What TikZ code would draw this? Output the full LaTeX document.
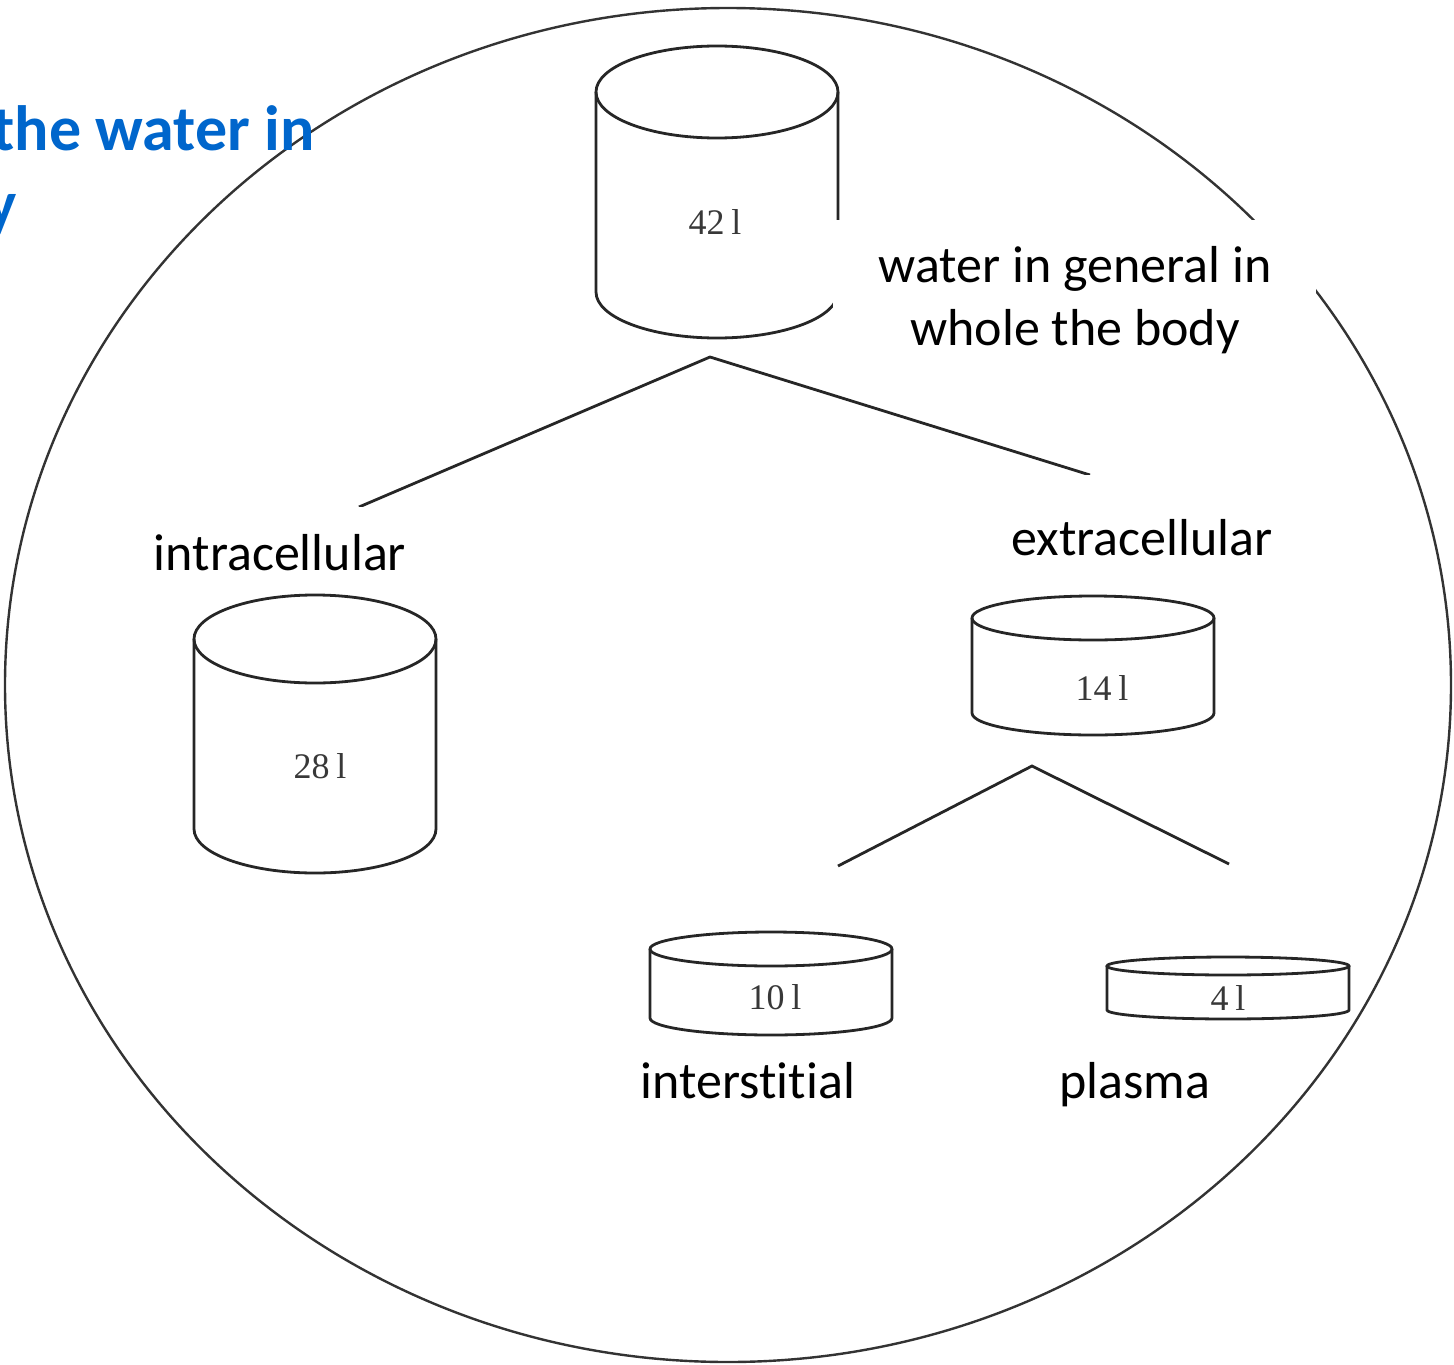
\documentclass[tikz,border=0pt]{standalone}
\usepackage{fontspec}
\setmainfont{Carlito}[Ligatures=NoCommon]
\newfontfamily\volfont{Liberation Serif}
\usepackage{tikz}

\definecolor{titleblue}{RGB}{0,102,204}
\tikzset{
    tank/.style={line width=2.8pt, draw=black!85},
    stem/.style={line width=2.8pt, draw=black!85},
    part/.style={font=\fontsize{52}{63}\selectfont, inner sep=0pt},
    vol/.style={font=\volfont\fontsize{36}{36}\selectfont, text=black!78},
    title/.style={font=\bfseries\fontsize{64}{78}\selectfont, text=titleblue, inner sep=0pt},
}

\begin{document}
\begin{tikzpicture}[x=1pt,y=-1pt]
    \useasboundingbox (0,0) rectangle (1454,1365);
    \coordinate (T1) at (710,357);
    \coordinate (T2) at (359,507);
    \coordinate (T3) at (1090,475);
    \coordinate (E1) at (1032,766);
    \coordinate (E2) at (838,866);
    \coordinate (E3) at (1229,864);

    \draw[line width=2.4pt, draw=black!80] (728,685) ellipse [x radius=723pt, y radius=677pt]; % body

    % tanks: centre x / top y / bottom y / half height of lid / label
    \foreach \cx/\yt/\yb/\ry/\lx/\ly/\val in {717/92/292/46/715/222/42, 315/639/829/44/320/766/28,
        1093/618/713/22/1102/688/14, 771/949/1018/17/775/997/10, 1228/966/1010/9/1228/998/4}{
        \draw[tank] (\cx-121,\yt) -- (\cx-121,\yb) arc[start angle=180, end angle=360, x radius=121pt, y radius=\ry pt] -- (\cx+121,\yt);
        \draw[tank] (\cx,\yt) ellipse [x radius=121pt, y radius=\ry pt];
        \node[vol] (v\val) at (\lx,\ly) {\val\hspace{7pt}l};
    }

    \draw[stem] (T2) -- (T1) -- (T3); % whole -> intra, extra
    \draw[stem] (E2) -- (E1) -- (E3); % extra -> inter, plasma

    \fill[white] (833,220) rectangle (1316,368); % cover
    \node[part, align=center, anchor=north] (whole) at (1075,246) {water in general in\\whole the body};
    \fill[white] (140,507) rectangle (420,590); % cover
    \node[part, anchor=base] (intra) at (280,570) {intracellular};
    \fill[white] (995,475) rectangle (1290,575); % cover
    \node[part, anchor=base] (extra) at (1142,555) {extracellular};
    \node[part, anchor=base] (inter) at (748,1098) {interstitial};
    \node[part, anchor=base] (plasma) at (1135,1098) {plasma};

    \node[title, anchor=base east] (head1) at (315,150) {the water in};
    \node[title, anchor=base east] (head2) at (17,225) {y};
\end{tikzpicture}
\end{document}
